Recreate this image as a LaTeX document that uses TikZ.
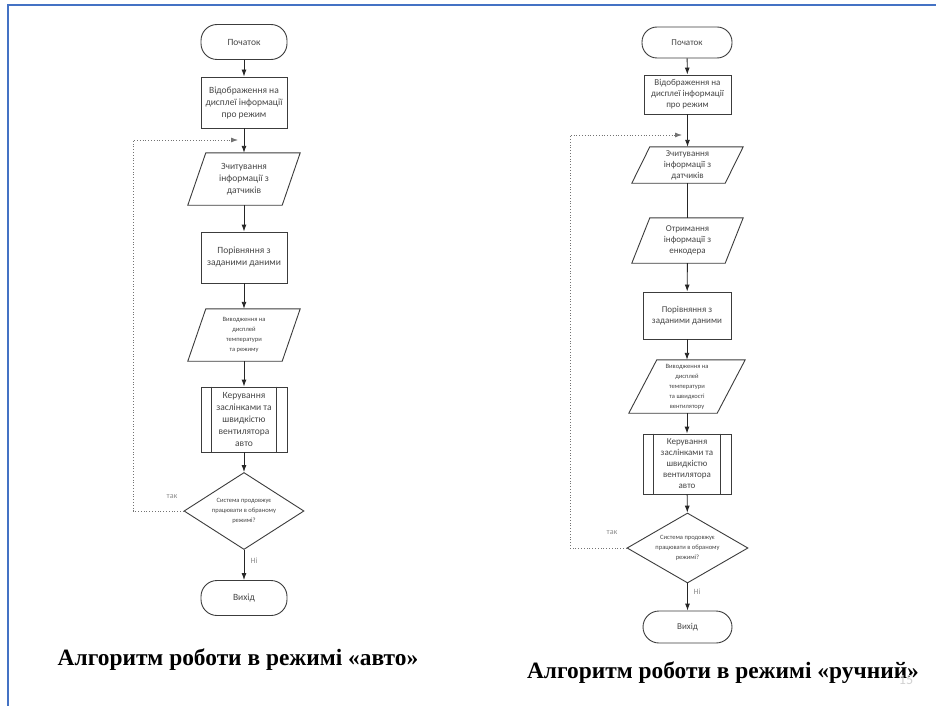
\documentclass[tikz,border=0pt]{standalone}
\usepackage{fontspec}
\setmainfont{Liberation Serif}
\newfontfamily\fcfont{Carlito}
\usetikzlibrary{shapes.geometric,arrows.meta}
\definecolor{frameblue}{RGB}{68,114,196}
\definecolor{shapeline}{RGB}{60,60,60}
\definecolor{txtgray}{RGB}{70,70,70}
\definecolor{lblgray}{RGB}{140,140,140}
\newcommand\drawpgram[2]{\draw[shapeline, line width=0.9pt] ([xshift=#2/2]#1.north west) -- ([xshift=#2/2]#1.north east) -- ([xshift=-#2/2]#1.south east) -- ([xshift=-#2/2]#1.south west) -- cycle;}
\newcommand\drawpredef[1]{\draw[shapeline, line width=0.9pt] ([xshift=11]#1.north west) -- ([xshift=11]#1.south west) ([xshift=-11]#1.north east) -- ([xshift=-11]#1.south east);}
\begin{document}
\begin{tikzpicture}[x=1pt,y=-1pt,
  base/.style={draw=shapeline, line width=0.9pt, align=center, text=txtgray, font=\fcfont\fontsize{9.5}{12}\selectfont, inner sep=1pt},
  rfont/.style={font=\fcfont\fontsize{9}{11}\selectfont},
  smallfont/.style={font=\fcfont\fontsize{6.5}{10}\selectfont},
  term/.style={base, rectangle, rounded corners=16pt, minimum width=86pt, minimum height=35pt},
  procbox/.style={base, rectangle, minimum width=86pt},
  ioshape/.style={align=center, text=txtgray, font=\fcfont\fontsize{9.5}{12}\selectfont, minimum width=94pt, inner sep=0pt},
  predef/.style={base, rectangle, minimum width=86pt},
  decide/.style={base, diamond, inner sep=0pt},
  flow/.style={draw=black!85, line width=0.9pt, -{Latex[length=7pt,width=5pt]}},
  plainflow/.style={draw=black!85, line width=0.9pt},
  loopline/.style={draw=black!55, line width=0.8pt, dotted, -{Latex[length=7pt,width=5pt]}},
  lbl/.style={text=lblgray, font=\fcfont\fontsize{8}{9}\selectfont},
  title/.style={font=\bfseries\fontsize{23.4}{26}\selectfont, text=black}
]
\useasboundingbox (0,0) rectangle (936,706);
\fill[white] (0,0) rectangle (936,706);
\draw[frameblue, line width=2.5pt] (8,706) -- (8,5) -- (936,5);

% ---------- left chart ----------
\node[term] (Ls) at (244,42) {Початок};
\node[procbox, minimum height=51pt] (Lb1) at (244,102.5) {Відображення на\\дисплеї інформації\\про режим};
\node[ioshape, minimum height=52pt] (Lp1) at (244,179) {Зчитування\\інформації з\\датчиків};
\node[procbox, minimum height=51pt] (Lb2) at (244,257.5) {Порівняння з\\заданими даними};
\node[ioshape, smallfont, minimum height=52pt] (Lp2) at (244,335) {Виводження на\\дисплей\\температури\\та режиму};
\node[predef, minimum height=65pt] (Lpp) at (244,419.5) {Керування\\заслінками та\\швидкістю\\вентилятора\\авто};
\node[decide, smallfont, minimum width=120pt, minimum height=77pt, shape aspect=1.56] (Ld) at (244,511) {Система продовжує\\працювати в обраному\\режимі?};
\node[term] (Le) at (244,598) {Вихід};
\drawpgram{Lp1}{18}
\drawpgram{Lp2}{18}
\drawpredef{Lpp}

\draw[flow] (Ls) -- (Lb1);
\draw[flow] (Lb1) -- (Lp1);
\draw[flow] (Lp1) -- (Lb2);
\draw[flow] (Lb2) -- (Lp2);
\draw[flow] (Lp2) -- (Lpp);
\draw[flow] (Lpp) -- (Ld);
\draw[flow] (Ld) -- (Le);
\coordinate (Lc1) at (133,511);
\coordinate (Lc2) at (133,140);
\coordinate (Lj) at (238,140);
\draw[loopline] (Ld.west) -- (Lc1) -- (Lc2) -- (Lj);
\node[lbl] (Lyes) at (172,497) {так};
\node[lbl] (Lno) at (254,561) {Ні};

% ---------- right chart ----------
\node[term, rfont, minimum width=90pt, minimum height=31pt, rounded corners=15pt] (Rs) at (687,42.5) {Початок};
\node[procbox, rfont, minimum width=87pt, minimum height=39pt] (Rb1) at (687.5,94.5) {Відображення на\\дисплеї інформації\\про режим};
\node[ioshape, rfont, minimum width=93pt, minimum height=36pt] (Rp1) at (687.5,165) {Зчитування\\інформації з\\датчиків};
\node[ioshape, rfont, minimum width=93pt, minimum height=45pt] (Rp2) at (687.5,240.5) {Отримання\\інформації з\\енкодера};
\node[procbox, rfont, minimum width=88pt, minimum height=47pt] (Rb2) at (687,315.5) {Порівняння з\\заданими даними};
\node[ioshape, minimum width=88pt, minimum height=53pt, font=\fcfont\fontsize{6.5}{10}\selectfont] (Rp3) at (687,386.5) {Виводження на\\дисплей\\температури\\та швидкості\\вентилятору};
\node[predef, rfont, minimum width=88pt, minimum height=60pt] (Rpp) at (687,464) {Керування\\заслінками та\\швидкістю\\вентилятора\\авто};
\node[decide, smallfont, minimum width=121pt, minimum height=70pt, shape aspect=1.73] (Rd) at (687.5,548) {Система продовжує\\працювати в обраному\\режимі?};
\node[term, rfont, minimum width=89pt, minimum height=32pt, rounded corners=16pt] (Re) at (687.5,627) {Вихід};
\drawpgram{Rp1}{18}
\drawpgram{Rp2}{18}
\drawpgram{Rp3}{28}
\drawpredef{Rpp}

\draw[flow] (Rs) -- (Rb1);
\draw[flow] (Rb1) -- (Rp1);
\draw[plainflow] (Rp1) -- (Rp2);
\draw[flow] (Rp2) -- (Rb2);
\draw[flow] (Rb2) -- (Rp3);
\draw[flow] (Rp3) -- (Rpp);
\draw[flow] (Rpp) -- (Rd);
\draw[flow] (Rd) -- (Re);
\coordinate (Rc1) at (570,548);
\coordinate (Rc2) at (570,135);
\coordinate (Rj) at (682,135);
\draw[loopline] (Rd.west) -- (Rc1) -- (Rc2) -- (Rj);
\node[lbl] (Ryes) at (612,533) {так};
\node[lbl] (Rno) at (697,592) {Ні};

% ---------- titles ----------
\node[title] (Lt) at (238,660) {Алгоритм роботи в режимі «авто»};
\node[title] (Rt) at (723,673) {Алгоритм роботи в режимі «ручний»};
\node[font=\fcfont\fontsize{14}{14}\selectfont, text=black!18] (pg) at (906,680) {15};
\end{tikzpicture}
\end{document}
